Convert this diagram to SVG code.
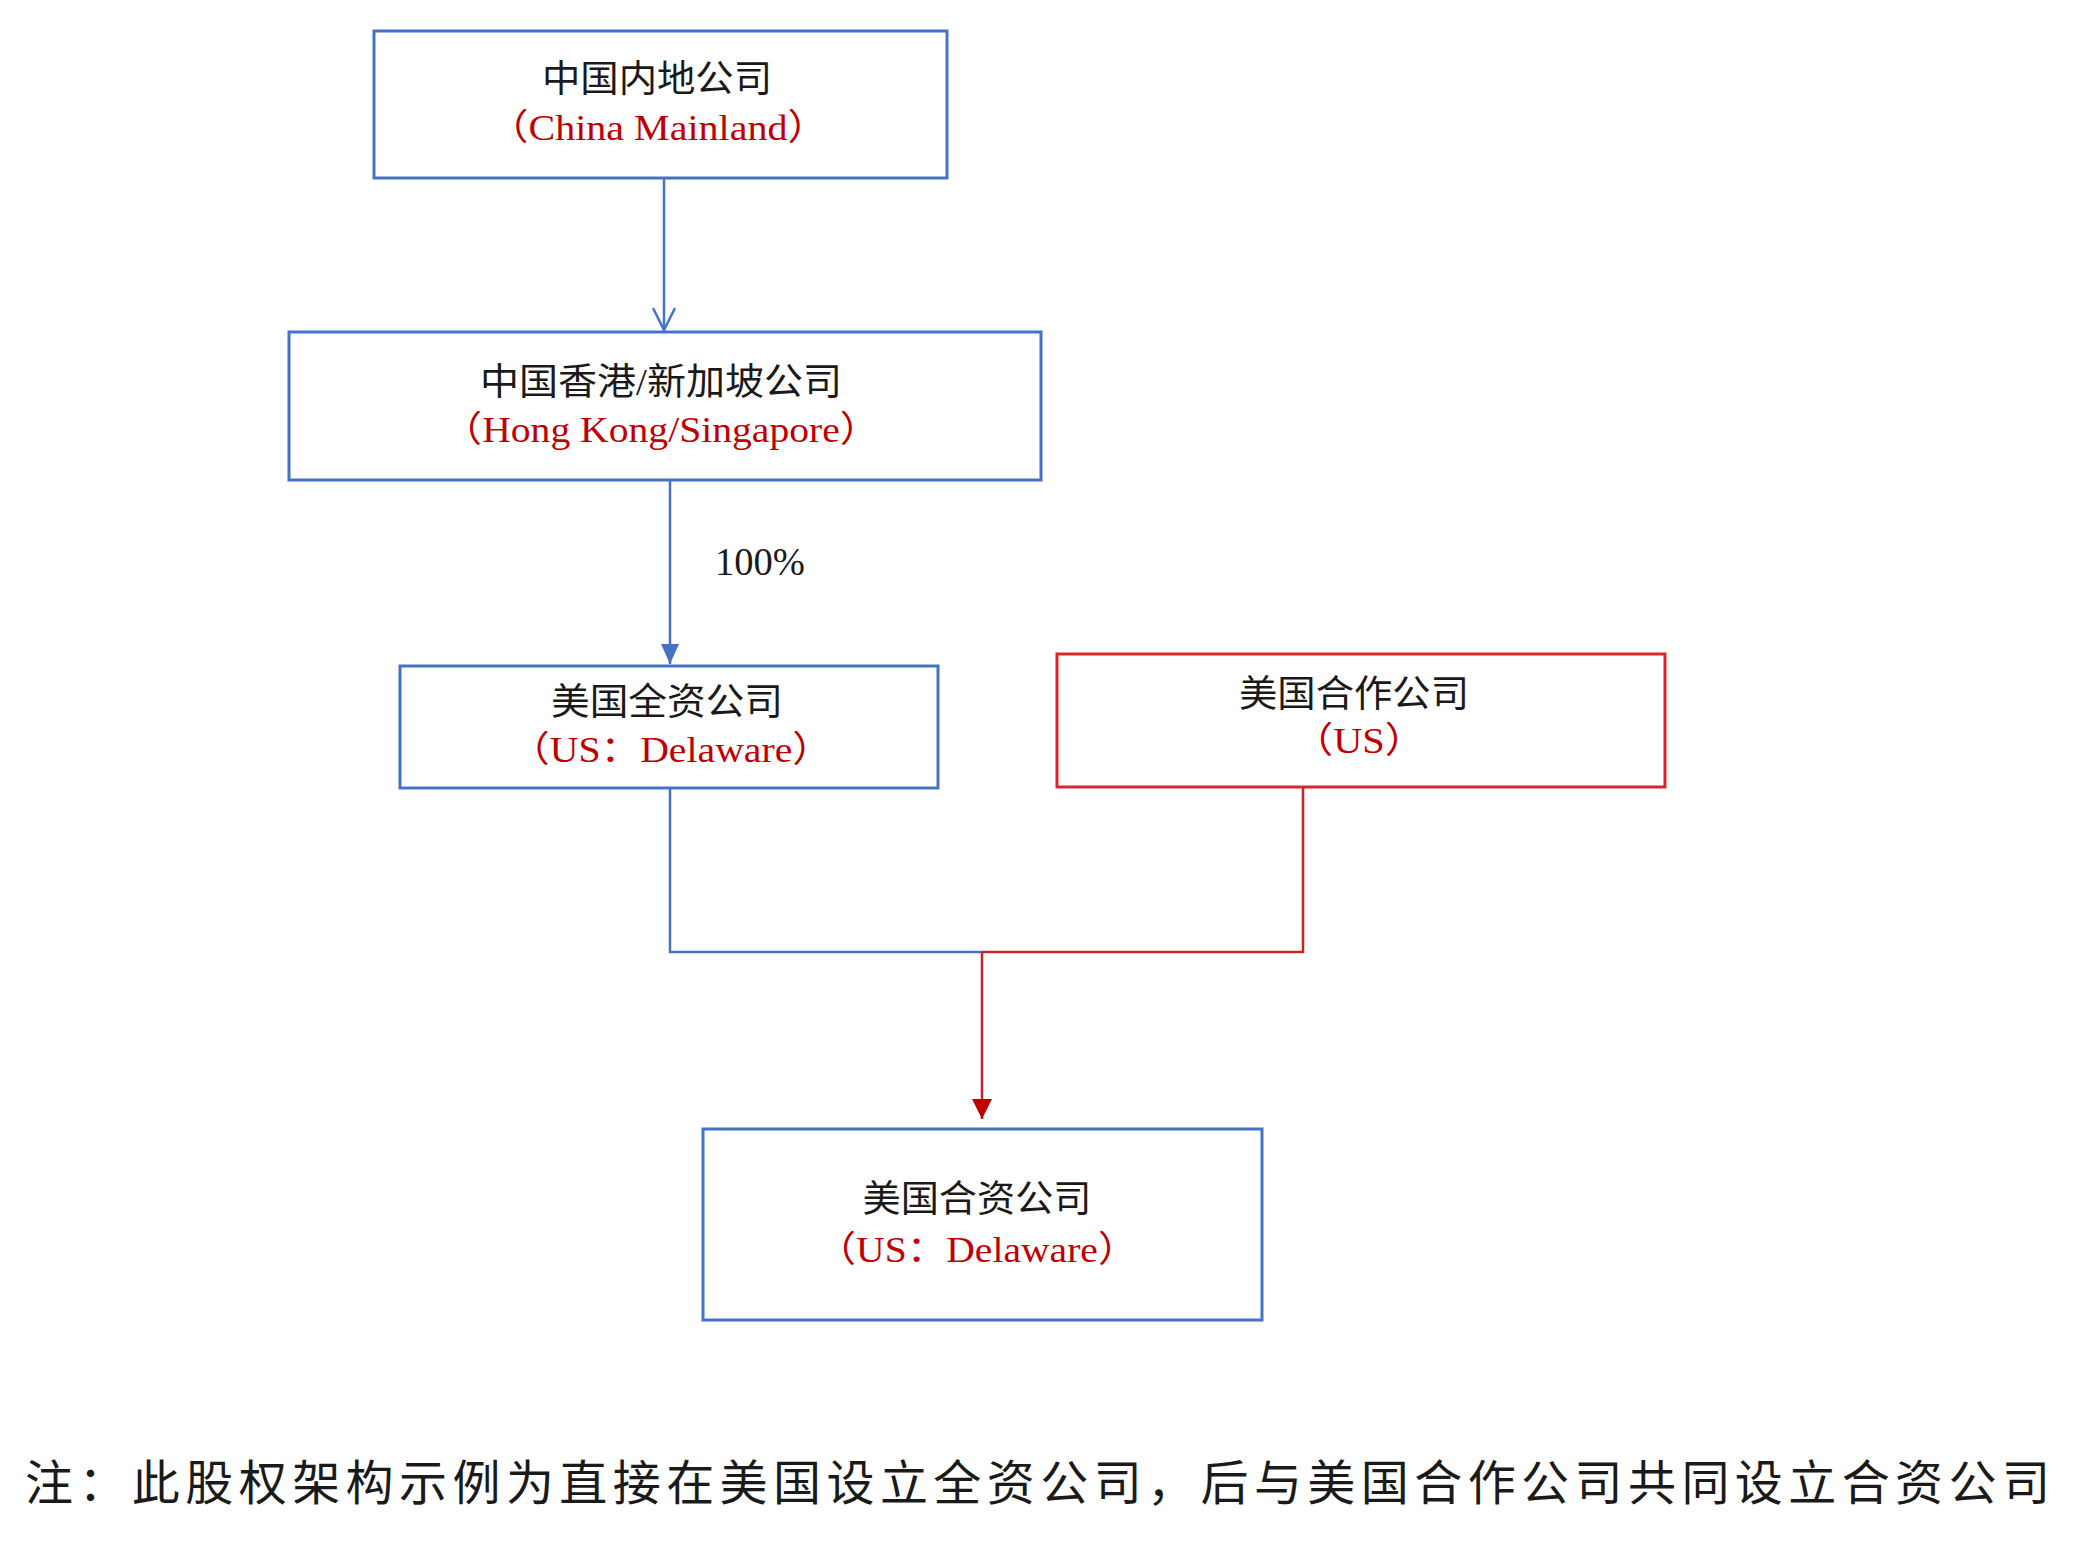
<svg xmlns="http://www.w3.org/2000/svg" width="2077" height="1560" viewBox="0 0 2077 1560">
<style>
.box{fill:#fff;stroke:#4472C4;stroke-width:3}
.rbox{fill:#fff;stroke:#D9272E;stroke-width:3}
.cn{font-family:"Liberation Serif","Noto Sans CJK SC",serif;font-size:37px;fill:#1a1a1a;text-anchor:middle}
.en{font-family:"Liberation Serif","Noto Sans CJK SC",serif;font-size:36px;fill:#C00000;text-anchor:middle}
.blue{fill:none;stroke:#4472C4;stroke-width:2.5}
.red{fill:none;stroke:#C8232A;stroke-width:2.5}
.note{font-family:"Noto Sans CJK SC",sans-serif;font-size:48px;fill:#1a1a1a}
</style>
<defs>
<marker id="openBlue" markerWidth="30" markerHeight="24" refX="26" refY="12" orient="auto" markerUnits="userSpaceOnUse">
<path d="M4,1 L26,12 L4,23" fill="none" stroke="#4472C4" stroke-width="2.5"/>
</marker>
<marker id="fillBlue" markerWidth="22" markerHeight="20" refX="20" refY="10" orient="auto" markerUnits="userSpaceOnUse">
<path d="M0,1 L20,10 L0,19 Z" fill="#4472C4"/>
</marker>
<marker id="fillRed" markerWidth="22" markerHeight="22" refX="20" refY="11" orient="auto" markerUnits="userSpaceOnUse">
<path d="M0,1 L20,11 L0,21 Z" fill="#C00000"/>
</marker>
</defs>
<rect width="2077" height="1560" fill="#fff"/>
<g id="connectors">
<line class="blue" x1="664" y1="178" x2="664" y2="330" marker-end="url(#openBlue)"/>
<line class="blue" x1="670" y1="480" x2="670" y2="664" marker-end="url(#fillBlue)"/>
<polyline class="blue" points="670,788 670,952 982,952"/>
<polyline class="red" points="1303,787 1303,952 982,952"/>
<line class="red" x1="982" y1="952" x2="982" y2="1119" marker-end="url(#fillRed)"/>
<text x="760" y="575" font-family="Liberation Serif,serif" font-size="40" fill="#1a1a1a" text-anchor="middle" textLength="90" lengthAdjust="spacingAndGlyphs">100%</text>
</g>
<g id="node-mainland">
<rect class="box" x="374" y="31" width="573" height="147"/>
<text class="cn" x="657" y="92" textLength="230" lengthAdjust="spacingAndGlyphs">中国内地公司</text>
<text class="en" x="658" y="140" textLength="339" lengthAdjust="spacingAndGlyphs">（China Mainland）</text>
</g>
<g id="node-hk">
<rect class="box" x="289" y="332" width="752" height="148"/>
<text class="cn" x="661" y="395" textLength="362" lengthAdjust="spacingAndGlyphs">中国香港/新加坡公司</text>
<text class="en" x="661" y="442" textLength="437" lengthAdjust="spacingAndGlyphs">（Hong Kong/Singapore）</text>
</g>
<g id="node-us-wfoe">
<rect class="box" x="400" y="666" width="538" height="122"/>
<text class="cn" x="667" y="715" textLength="232" lengthAdjust="spacingAndGlyphs">美国全资公司</text>
<text class="en" x="671" y="762" textLength="322" lengthAdjust="spacingAndGlyphs">（US：Delaware）</text>
</g>
<g id="node-us-partner">
<rect class="rbox" x="1057" y="654" width="608" height="133"/>
<text class="cn" x="1354" y="707" textLength="230" lengthAdjust="spacingAndGlyphs">美国合作公司</text>
<text class="en" x="1359" y="753" textLength="132" lengthAdjust="spacingAndGlyphs">（US）</text>
</g>
<g id="node-jv">
<rect class="box" x="703" y="1129" width="559" height="191"/>
<text class="cn" x="977" y="1212" textLength="229" lengthAdjust="spacingAndGlyphs">美国合资公司</text>
<text class="en" x="977" y="1262" textLength="321" lengthAdjust="spacingAndGlyphs">（US：Delaware）</text>
</g>
<g id="note">
<text class="note" x="25" y="1500" textLength="2025" lengthAdjust="spacing">注：此股权架构示例为直接在美国设立全资公司，后与美国合作公司共同设立合资公司</text>
</g>
</svg>
